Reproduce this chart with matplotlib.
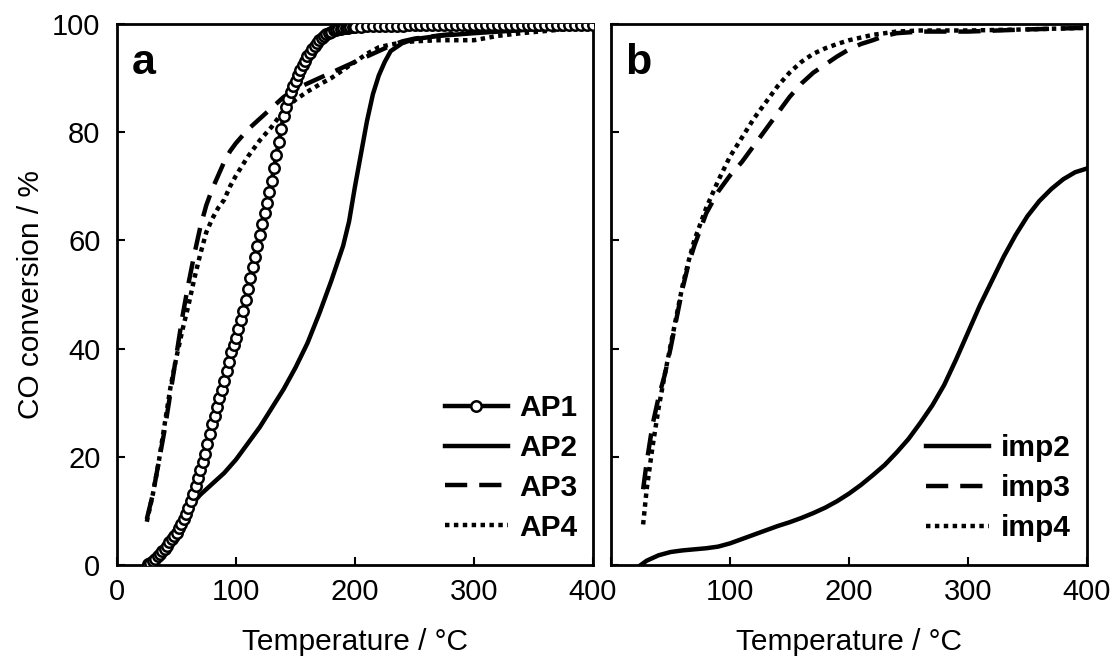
import matplotlib
matplotlib.use('Agg')
import matplotlib.pyplot as plt

plt.rcParams['font.family'] = ['Liberation Sans', 'DejaVu Sans']

# Panel a: AP catalysts
ap1_temp = list(range(26, 201, 2)) + list(range(205, 401, 5))
ap1_conv = [0.1, 0.4, 0.8, 1.2, 1.6, 2.0, 2.5, 3.0, 3.6, 4.2, 4.8, 5.4, 6.0, 6.8, 7.6,
            8.5, 9.5, 10.5, 11.8, 13.2, 14.6, 16.0, 17.5, 19.0, 20.6, 22.3, 24.2, 26.0,
            27.6, 29.2, 30.8, 32.4, 34.0, 35.8, 37.6, 39.3, 40.7, 42.0, 43.6, 45.2, 47.0,
            49.0, 51.0, 53.0, 55.0, 57.0, 59.0, 61.0, 63.0, 65.0, 67.0, 69.0, 71.0, 73.4,
            75.8, 78.2, 80.6, 83.0, 84.6, 86.2, 87.5, 88.5, 89.5, 90.5, 91.5, 92.4, 93.2,
            94.0, 94.7, 95.4, 96.0, 96.5, 97.0, 97.4, 97.8, 98.1, 98.4, 98.6, 98.8, 98.9,
            99.0, 99.1, 99.2, 99.3, 99.3, 99.4, 99.4, 99.5,
            99.5, 99.6, 99.6, 99.6, 99.7, 99.7, 99.7, 99.7, 99.8, 99.8, 99.8, 99.8, 99.8,
            99.8, 99.8, 99.9, 99.9, 99.9, 99.9, 99.9, 99.9, 99.9, 99.9, 99.9, 99.9, 99.9,
            99.9, 99.9, 99.9, 99.9, 99.9, 99.9, 99.9, 99.9, 99.9, 99.9, 99.9, 99.9, 99.9,
            99.9]

ap2_temp = [25, 30, 40, 50, 60, 70, 80, 90, 100, 110, 120, 130, 140, 150, 160, 170, 180,
            190, 195, 200, 205, 210, 215, 220, 225, 230, 240, 250, 270, 300, 350, 400]
ap2_conv = [0, 1, 3.5, 7, 10.5, 13, 15, 17, 19.5, 22.5, 25.5, 29, 32.5, 36.5, 41, 46.5,
            52.5, 59, 63.5, 70, 76, 82, 87, 90.5, 93, 95, 96.5, 97.2, 97.8, 98.3, 99, 99.5]

ap3_temp = [25, 30, 35, 40, 45, 50, 55, 60, 65, 70, 75, 80, 85, 90, 95, 100, 110, 120,
            130, 140, 150, 160, 170, 180, 190, 200, 210, 220, 230, 240, 250, 275, 300,
            350, 400]
ap3_conv = [8.5, 13, 19, 25, 32, 39, 46, 52, 57.5, 62.5, 66.5, 69.5, 72, 74.5, 76.5, 78,
            80.5, 82.5, 84.5, 86.5, 88, 89, 90, 91, 92, 93, 94, 95, 96, 96.8, 97.3, 98,
            98.5, 99, 99.5]

ap4_temp = [25, 30, 35, 40, 45, 50, 55, 60, 65, 70, 75, 80, 85, 90, 95, 100, 110, 120,
            130, 140, 150, 160, 170, 180, 190, 200, 210, 220, 230, 240, 250, 270, 300,
            320, 340, 360, 380, 400]
ap4_conv = [8, 13, 19, 26, 33, 38.5, 43.5, 48, 53, 57.5, 61.5, 64, 66, 67.5, 70, 72, 75.5,
            78.5, 81, 84, 86, 87.5, 88.8, 90, 91.5, 93, 94.5, 95.7, 96.2, 96.6, 96.8, 97,
            97, 97.8, 98.3, 98.7, 99.1, 99.4]

# Panel b: impregnated catalysts
imp2_temp = [25, 30, 40, 50, 60, 70, 80, 90, 100, 110, 120, 130, 140, 150, 160, 170, 180,
             190, 200, 210, 220, 230, 240, 250, 260, 270, 280, 290, 300, 310, 320, 330,
             340, 350, 360, 370, 380, 390, 400]
imp2_conv = [0, 0.8, 1.8, 2.4, 2.7, 2.9, 3.1, 3.4, 4, 4.8, 5.6, 6.4, 7.2, 7.9, 8.7, 9.6,
             10.6, 11.8, 13.2, 14.8, 16.6, 18.5, 20.8, 23.3, 26.3, 29.5, 33.3, 38, 43, 48,
             52.5, 57, 61, 64.5, 67.3, 69.5, 71.3, 72.6, 73.3]

imp3_temp = [27, 30, 35, 40, 45, 50, 55, 60, 65, 70, 75, 80, 85, 90, 100, 110, 120, 130,
             140, 150, 160, 170, 180, 190, 200, 210, 220, 230, 240, 260, 300, 350, 400]
imp3_conv = [14, 19, 26, 31, 35, 40, 45.5, 51, 55.5, 59, 62, 65, 67, 69, 72, 74.5, 77.5,
             80.5, 83.5, 86.5, 89, 91, 92.5, 94, 95.3, 96.3, 97, 97.8, 98.3, 98.6, 98.6,
             99, 99.3]

imp4_temp = [27, 30, 35, 40, 45, 50, 55, 60, 65, 70, 75, 80, 85, 90, 100, 110, 120, 130,
             140, 150, 160, 170, 180, 190, 200, 220, 240, 260, 300, 350, 400]
imp4_conv = [7.5, 14, 22, 29, 35, 40.5, 46, 51.5, 56, 60, 63, 66, 68.5, 71, 75.5, 79, 82.5,
             85.5, 88.5, 91, 93, 94.5, 95.5, 96.3, 97, 98, 98.6, 98.8, 98.8, 99, 99.3]

x_ticks = [0, 100, 200, 300, 400]
x_labels_a = ['0', '100', '200', '300', '400']
x_labels_b = ['', '100', '200', '300', '400']   # the 0 sits under the 400 of panel a
y_ticks = [0, 20, 40, 60, 80, 100]

LW = 3.2
DASH = (5, 2.7)
DOT = (1, 1)

fig = plt.figure(figsize=(11.18, 6.61), dpi=100)
ax_a = fig.add_axes([0.1047, 0.1452, 0.4257, 0.8185])
ax_b = fig.add_axes([0.5465, 0.1452, 0.4258, 0.8185])

ax_a.plot(ap1_temp, ap1_conv, color='black', lw=LW, marker='o', ms=7.5,
          mfc='white', mec='black', mew=1.8, label='AP1', zorder=5)
ax_a.plot(ap2_temp, ap2_conv, color='black', lw=LW, label='AP2', zorder=4)
ax_a.plot(ap3_temp, ap3_conv, color='black', lw=LW, dashes=DASH,
          dash_capstyle='butt', label='AP3', zorder=3)
ax_a.plot(ap4_temp, ap4_conv, color='black', lw=LW, dashes=DOT,
          dash_capstyle='butt', label='AP4', zorder=3)

ax_b.plot(imp2_temp, imp2_conv, color='black', lw=LW, label='imp2')
ax_b.plot(imp3_temp, imp3_conv, color='black', lw=LW, dashes=DASH,
          dash_capstyle='butt', label='imp3')
ax_b.plot(imp4_temp, imp4_conv, color='black', lw=LW, dashes=DOT,
          dash_capstyle='butt', label='imp4')

for ax, letter, xl in [(ax_a, 'a', x_labels_a), (ax_b, 'b', x_labels_b)]:
    ax.set_xlim(0, 400)
    ax.set_ylim(0, 100)
    ax.set_xticks(x_ticks, xl)
    ax.set_yticks(y_ticks)
    ax.tick_params(direction='in', length=6, width=1.5, labelsize=21)
    ax.tick_params(axis='x', pad=9)
    ax.tick_params(axis='y', pad=12)
    for sp in ax.spines.values():
        sp.set_linewidth(2)
    ax.set_xlabel('Temperature / °C', fontsize=21.5, labelpad=16)
    ax.text(0.03, 0.965, letter, transform=ax.transAxes, fontsize=31,
            fontweight='bold', va='top', ha='left')

ax_b.tick_params(labelleft=False)
ax_a.set_ylabel('CO conversion / %', fontsize=21.5, labelpad=5)

leg_kw = dict(frameon=False, loc='upper left', borderpad=0, borderaxespad=0,
              handlelength=2.1, handletextpad=0.4, labelspacing=0.4,
              prop={'size': 21.5, 'weight': 'bold'})
ax_a.legend(bbox_to_anchor=(0.689, 0.316), **leg_kw)
ax_b.legend(bbox_to_anchor=(0.662, 0.242), **leg_kw)

fig.savefig('out.png', dpi=100)
